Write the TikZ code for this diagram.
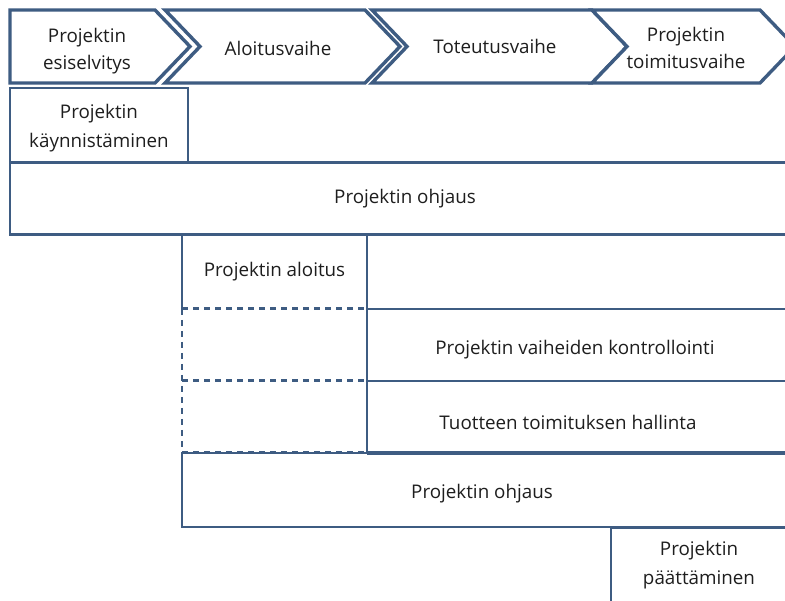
\documentclass[tikz,border=0pt]{standalone}
\usepackage{fontspec}
\setmainfont{Open Sans}
\usetikzlibrary{calc}
\definecolor{edge}{RGB}{62,92,130}
\definecolor{ink}{RGB}{30,30,30}
\begin{document}
\begin{tikzpicture}[x=1pt,y=-1pt,
  every node/.style={text=ink,font=\fontsize{18.8}{29}\selectfont,align=center},
  chevtext/.style={font=\fontsize{18.8}{27.5}\selectfont},
  chev/.style={draw=edge,fill=white,line width=3.4pt,line join=miter},
  box/.style={draw=edge,fill=white,line width=2.6pt,rectangle,anchor=north west,inner sep=0pt,outer sep=0pt},
  side/.style={draw=edge,line width=2.6pt},
  dashside/.style={draw=edge,line width=3pt,dash pattern=on 6pt off 5pt},
  dashvert/.style={draw=edge,line width=2pt,dash pattern=on 6pt off 5pt},
  txt/.style={inner sep=0pt}]
\useasboundingbox[fill=white] (0,0) rectangle (785,601);

% phase chevrons along the top
\draw[chev] (10,10) -- (155,10) -- (190,46.5) -- (155,83) -- (10,83) -- cycle;
\draw[chev] (165,10) -- (365,10) -- (400,46.5) -- (365,83) -- (165,83) -- (200,46.5) -- cycle;
\draw[chev] (372,10) -- (592,10) -- (627,46.5) -- (592,83) -- (372,83) -- (407,46.5) -- cycle;
\draw[chev] (592,10) -- (760,10) -- (795,46.5) -- (760,83) -- (592,83) -- (627,46.5) -- cycle;
\node[txt,chevtext] (p1) at (87,51) {Projektin\\esiselvitys};
\node[txt] (p2) at (278,48) {Aloitusvaihe};
\node[txt] (p3) at (495,46) {Toteutusvaihe};
\node[txt,chevtext] (p4) at (686,48) {Projektin\\toimitusvaihe};

% process blocks
\node[box,minimum width=178pt,minimum height=75pt] (kay) at (10,88) {};
\node[txt] (kayt) at (99,128) {Projektin\\käynnistäminen};
\node[box,minimum width=790pt,minimum height=72pt] (ohj1) at (10,162.5) {Projektin ohjaus};

% dashed placeholders left of the delivery processes
\draw[dashvert] (182,309) -- (182,453);
\draw[dashside] (182,309) -- (367,309);
\draw[dashside] (182,381) -- (367,381);
\draw[dashside] (182,453) -- (367,453);

\node[box,draw=none,fill=none,minimum width=185pt,minimum height=74pt] (alo) at (182,235) {Projektin aloitus};
\draw[side] (alo.south west) -- (alo.north west) -- (alo.north east) -- (alo.south east);

\node[box,fill=none,minimum width=440pt,minimum height=72pt] (vai) at (367,309) {};
\node[txt] (vait) at (575,350) {Projektin vaiheiden kontrollointi};
\node[box,fill=none,minimum width=440pt,minimum height=72pt] (tuo) at (367,381) {};
\node[txt] (tuot) at (568,422) {Tuotteen toimituksen hallinta};
\draw[edge,line width=3.4pt] (tuo.south west) -- (tuo.south east);

\node[box,fill=none,minimum width=610pt,minimum height=74pt] (ohj2) at (182,453) {};
\node[txt] (ohj2t) at (482,494) {Projektin ohjaus};

\node[box,fill=none,minimum width=190pt,minimum height=80pt] (paa) at (611,528) {};
\node[txt] (paat) at (699,565) {Projektin\\päättäminen};
\end{tikzpicture}
\end{document}
